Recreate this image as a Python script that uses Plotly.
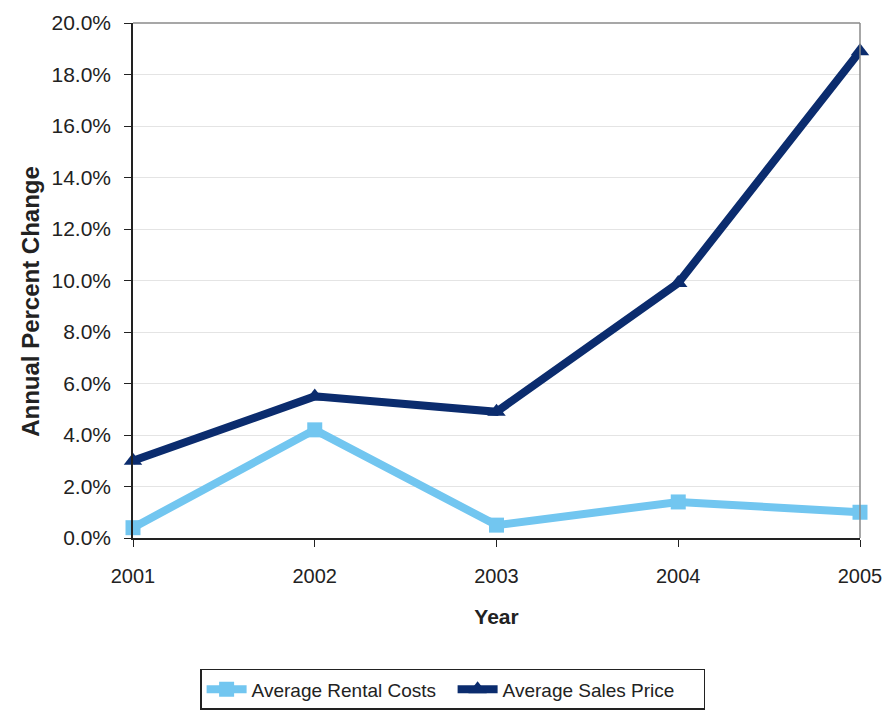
import plotly.graph_objects as go

# Annual percent change by year
years = [2001, 2002, 2003, 2004, 2005]
rental_costs = [0.004, 0.042, 0.005, 0.014, 0.010]
sales_price = [0.030, 0.055, 0.049, 0.099, 0.189]

LIGHT = "#72C6F0"
DARK = "#0B2C6E"
FONT = "Liberation Sans, Arial, sans-serif"

fig = go.Figure()
fig.add_trace(go.Scatter(
    x=years, y=rental_costs, name="Average Rental Costs",
    mode="lines+markers", cliponaxis=False,
    line=dict(color=LIGHT, width=8),
    marker=dict(symbol="square", size=15, color=LIGHT),
))
fig.add_trace(go.Scatter(
    x=years, y=sales_price, name="Average Sales Price",
    mode="lines+markers", cliponaxis=False,
    line=dict(color=DARK, width=8),
    marker=dict(symbol="triangle-up", size=16, color=DARK),
))

fig.update_layout(
    width=884, height=710,
    margin=dict(l=133, r=24, t=23, b=172, autoexpand=False),
    paper_bgcolor="white", plot_bgcolor="white",
    font=dict(family=FONT, color="#222222", size=20),
    showlegend=True,
    legend=dict(
        orientation="h",
        xref="container", yref="container",
        x=0.512, xanchor="center", y=0.058, yanchor="top",
        bordercolor="#222222", borderwidth=1.5, bgcolor="white",
        font=dict(size=19, color="#222222"),
        itemwidth=40, entrywidth=196, traceorder="normal",
    ),
    xaxis=dict(
        range=[2001, 2005], tickmode="array", tickvals=years,
        ticktext=[str(y) for y in years],
        showgrid=False, zeroline=False, automargin=False,
        ticklabeloverflow="allow", ticklabelstandoff=12,
        showline=True, linecolor="#222222", linewidth=1.5,
        ticks="outside", ticklen=7, tickcolor="#222222",
        tickfont=dict(size=20),
        title=dict(text="<b>Year</b>", font=dict(size=21), standoff=24),
    ),
    yaxis=dict(
        range=[0, 0.2], dtick=0.02, tickformat=".1%",
        showgrid=True, gridcolor="#E4E4E4", gridwidth=1,
        zeroline=False, automargin=False, ticklabelstandoff=9,
        showline=True, linecolor="#222222", linewidth=1.5,
        ticks="outside", ticklen=7, tickcolor="#222222",
        tickfont=dict(size=21),
    ),
    annotations=[dict(
        text="<b>Annual Percent Change</b>", textangle=-90,
        xref="paper", yref="paper", x=-0.142, y=0.46,
        xanchor="center", yanchor="middle", showarrow=False,
        font=dict(size=24, color="#222222"),
    )],
    shapes=[
        dict(type="line", xref="paper", yref="paper", x0=0, x1=1, y0=1, y1=1,
             line=dict(color="#8A8A8A", width=1.5)),
        dict(type="line", xref="paper", yref="paper", x0=1, x1=1, y0=0, y1=1,
             line=dict(color="#8A8A8A", width=1.5)),
    ],
)

fig.write_html("out.html")
